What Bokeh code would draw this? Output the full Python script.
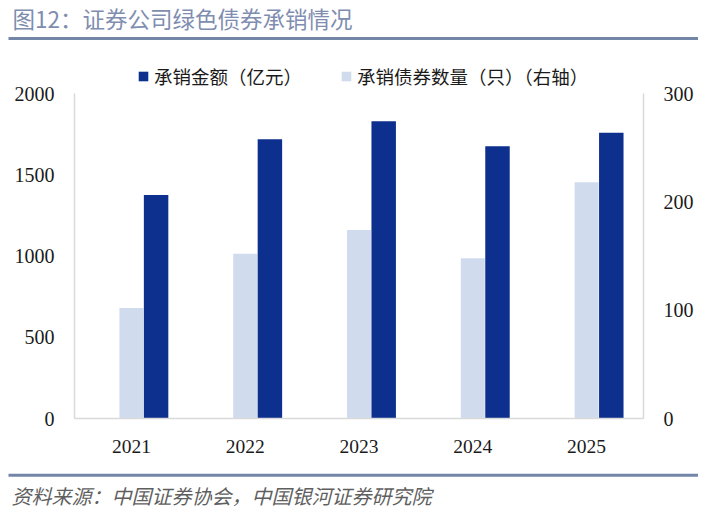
from bokeh.plotting import figure
from bokeh.models import (Range1d, LinearAxis, FixedTicker, Legend, LegendItem,
                          Label, BoxAnnotation, ColumnDataSource)
from bokeh.transform import dodge
from bokeh.embed import file_html
from bokeh.resources import INLINE

# ---- data ----
years = ["2021", "2022", "2023", "2024", "2025"]
amount = [1375, 1718, 1830, 1676, 1758]      # 承销金额（亿元）
count = [102, 152, 174, 148, 218]            # 承销债券数量（只）
left_ticks = [0, 500, 1000, 1500, 2000]
right_ticks = [0, 100, 200, 300]

title_text = "图12：证券公司绿色债券承销情况"
source_text = "资料来源：中国证券协会，中国银河证券研究院"
amount_label = "承销金额（亿元）"
count_label = "承销债券数量（只）（右轴）"

# ---- style / layout ----
DARK = "#0d2f8d"
LIGHT = "#d0dcee"
AXIS = "#d9d9d9"
RULE = "#7486a8"
NUM_FONT = "Liberation Serif"
CJK_FONT = "Noto Sans CJK SC"

W, H = 698, 512
PX_L, PX_R, PX_T, PX_B = 74, 643, 93, 418   # chart area (pixels from top-left)
LEFT_MAX = left_ticks[-1]
RIGHT_MAX = right_ticks[-1]

n = len(years)
sx = (PX_R - PX_L) / n
x_range = Range1d(-PX_L / sx, n + (W - PX_R) / sx)
sy = (PX_B - PX_T) / LEFT_MAX
y_range = Range1d(-(H - PX_B) / sy, PX_B / sy)
sy2 = (PX_B - PX_T) / RIGHT_MAX
y2_range = Range1d(-(H - PX_B) / sy2, PX_B / sy2)

centers = [i + 0.5 for i in range(n)]
src = ColumnDataSource(dict(xc=centers, amount=amount, count=count))

p = figure(width=W, height=H, x_range=x_range, y_range=y_range,
           x_axis_type=None, y_axis_type=None, title=None,
           output_backend="svg", toolbar_location=None,
           min_border=0, min_border_left=0, min_border_right=0,
           min_border_top=0, min_border_bottom=0)
p.extra_y_ranges = {"right": y2_range}
p.outline_line_color = None
p.background_fill_color = "white"
p.border_fill_color = "white"

light = p.vbar(x=dodge("xc", 0.0), top="count", width=0.211, source=src,
               y_range_name="right", fill_color=LIGHT, line_color=None)
dark = p.vbar(x=dodge("xc", 0.217), top="amount", width=0.215, source=src,
              fill_color=DARK, line_color=None)


def style_axis(ax, standoff, size="20px"):
    ax.axis_line_color = AXIS
    ax.axis_line_width = 1.5
    ax.major_tick_line_color = None
    ax.minor_tick_line_color = None
    ax.major_tick_out = 0
    ax.major_tick_in = 0
    ax.minor_tick_out = 0
    ax.minor_tick_in = 0
    ax.major_label_text_font = NUM_FONT
    ax.major_label_text_font_size = size
    ax.major_label_text_color = "#1a1a1a"
    ax.major_label_standoff = standoff


laxis = LinearAxis(fixed_location=0, bounds=(0, LEFT_MAX),
                   ticker=FixedTicker(ticks=left_ticks))
style_axis(laxis, 20)
p.add_layout(laxis, "left")

raxis = LinearAxis(fixed_location=n, bounds=(0, RIGHT_MAX), y_range_name="right",
                   ticker=FixedTicker(ticks=right_ticks))
style_axis(raxis, 20)
p.add_layout(raxis, "right")

xaxis = LinearAxis(fixed_location=0, bounds=(0, n),
                   ticker=FixedTicker(ticks=centers),
                   major_label_overrides={c: y for c, y in zip(centers, years)})
style_axis(xaxis, 21, "19.5px")
p.add_layout(xaxis, "below")

legend = Legend(items=[LegendItem(label=amount_label, renderers=[dark]),
                       LegendItem(label=count_label, renderers=[light])],
                orientation="horizontal", location=(137, H - 76 - 15),
                glyph_width=12, glyph_height=12, label_standoff=5, spacing=38,
                padding=0, margin=0, border_line_color=None,
                background_fill_alpha=0,
                label_text_font=CJK_FONT, label_text_font_size="18.5px",
                label_text_color="#1a1a1a", label_height=30,
                label_text_baseline="middle")
p.add_layout(legend)

p.add_layout(Label(x=12, y=H - 17, x_units="screen", y_units="screen",
                   text=title_text, text_font=CJK_FONT, text_font_size="22.5px",
                   text_color="#7f8db0", text_baseline="middle"))
p.add_layout(Label(x=11, y=H - 495, x_units="screen", y_units="screen",
                   text=source_text, text_font=CJK_FONT, text_font_size="20px",
                   text_color="#5f5f5f", text_font_style="italic",
                   text_baseline="middle"))

for top_px in (36.5, 473.2):
    p.add_layout(BoxAnnotation(left=8, right=W, top=H - top_px, bottom=H - top_px - 3,
                               left_units="screen", right_units="screen",
                               top_units="screen", bottom_units="screen",
                               fill_color=RULE, fill_alpha=1, line_color=None))

open("out.html", "w").write(file_html(p, INLINE))
